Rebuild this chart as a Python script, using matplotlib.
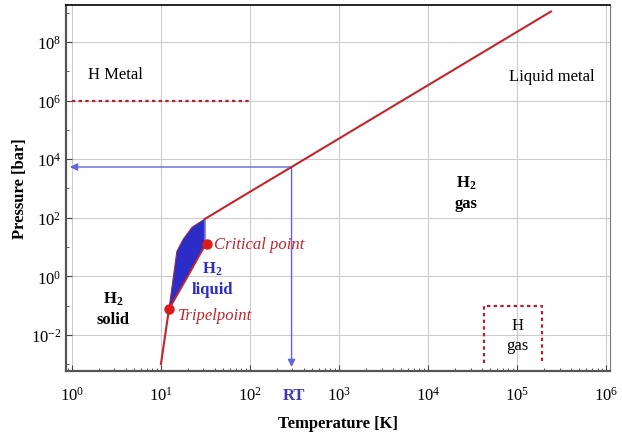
import matplotlib
matplotlib.use("Agg")
import matplotlib.pyplot as plt
from matplotlib.ticker import LogLocator, NullFormatter

plt.rcParams['font.family'] = ['Liberation Serif', 'DejaVu Serif']
plt.rcParams['mathtext.fontset'] = 'custom'
plt.rcParams['mathtext.rm'] = 'Liberation Serif'
plt.rcParams['mathtext.it'] = 'Liberation Serif:italic'
plt.rcParams['mathtext.bf'] = 'Liberation Serif:bold'

# phase boundaries of hydrogen (T in K, p in bar)
solid_T = [10.0, 12.3]
solid_p = [1.0e-3, 0.075]
melt_T = [12.3, 15.1, 17.7, 22.3, 31.0]
melt_p = [0.075, 7.1, 18, 47, 90]
upper_T = [31.0, 100, 293, 2.4e5]
upper_p = [90, 770, 5400, 1.1e9]
vapor_T = [12.3, 20, 31.0, 33]
vapor_p = [0.075, 1.0, 11, 13]
liquid_right_T = [31.0, 31.0]
liquid_right_p = [11, 90]

triple = (12.3, 0.075)
critical = (33, 13)
room_T = 293
room_p = 5400

metal_T = [1.0, 100]
metal_p = [1e6, 1e6]
hgas_T = [4.3e4, 4.3e4, 1.9e5, 1.9e5]
hgas_p = [1.1e-3, 0.1, 0.1, 1.1e-3]

red = '#c0262c'
blue = '#2c2cc8'
arrow_blue = '#6464d8'

fig = plt.figure(figsize=(6.22, 4.35), dpi=100)
ax = fig.add_axes([0.106, 0.145, 0.875, 0.841])
ax.set_xscale('log')
ax.set_yscale('log')
ax.set_xlim(10**-0.067, 10**6.045)
ax.set_ylim(10**-3.23, 10**9.26)

ax.set_xticks([10**k for k in range(0, 7)])
ax.set_yticks([10**k for k in range(-2, 9, 2)])
ax.xaxis.set_minor_locator(LogLocator(base=10, subs=range(2, 10), numticks=20))
ax.yaxis.set_minor_locator(LogLocator(base=10, subs=[1.0], numticks=30))
ax.xaxis.set_minor_formatter(NullFormatter())
ax.yaxis.set_minor_formatter(NullFormatter())
ax.tick_params(which='both', direction='in', labelsize=12, colors='#444444', labelcolor='black')
ax.tick_params(which='major', length=4)
ax.tick_params(which='minor', length=2.5)
ax.tick_params(axis='x', which='major', pad=11)
ax.grid(True, which='major', color='#cccccc', lw=0.8)
ax.set_axisbelow(True)
for s in ['left', 'bottom']:
    ax.spines[s].set_linewidth(1.6)
    ax.spines[s].set_color('#555555')
ax.spines['top'].set_linewidth(1.2)
ax.spines['top'].set_color('black')
ax.spines['right'].set_color('#777777')

# liquid region
ax.fill(melt_T + liquid_right_T[::-1][1:] + vapor_T[::-1][1:],
        melt_p + liquid_right_p[::-1][1:] + vapor_p[::-1][1:],
        color=blue, lw=0, zorder=2)
ax.plot(liquid_right_T, liquid_right_p, color='#8a8ae0', lw=0.8, zorder=3)
ax.plot(solid_T, solid_p, color=red, lw=1.5, zorder=3)
ax.plot(melt_T, melt_p, color='#8a3050', lw=0.8, zorder=3)
ax.plot(upper_T, upper_p, color=red, lw=1.5, zorder=3)
ax.plot(vapor_T, vapor_p, color=red, lw=1.4, zorder=3)
ax.plot(*triple, 'o', color='#dd1a1a', ms=6.5, zorder=4)
ax.plot(*critical, 'o', color='#dd1a1a', ms=6.5, zorder=4)

# room temperature arrows
arrow = dict(arrowstyle='-|>', color=arrow_blue, lw=1.0, mutation_scale=11, shrinkA=0, shrinkB=0)
ax.annotate('', xy=(0.95, room_p), xytext=(room_T, room_p), arrowprops=arrow, zorder=2)
ax.annotate('', xy=(room_T, 8e-4), xytext=(room_T, room_p), arrowprops=arrow, zorder=2)

# dotted boundaries
ax.plot(metal_T, metal_p, color='#b02030', lw=1.6, ls=(0, (1.5, 1.5)))
ax.plot(hgas_T, hgas_p, color='#b02030', lw=1.6, ls=(0, (1.5, 1.5)))

# labels
ax.text(1.5, 10**6.9, 'H Metal', fontsize=12, va='center', ha='left')
ax.text(10**5.87, 10**6.84, 'Liquid metal', fontsize=12, va='center', ha='right')
ax.text(10**4.43, 10**3.22, r'$\mathbf{H_2}$', fontsize=12, ha='center', va='center')
ax.text(10**4.43, 10**2.5, 'gas', fontsize=12, weight='bold', ha='center', va='center')
ax.text(10**0.46, 10**-0.75, r'$\mathbf{H_2}$', fontsize=12, ha='center', va='center')
ax.text(10**0.46, 10**-1.45, 'solid', fontsize=12, weight='bold', ha='center', va='center')
ax.text(10**1.573, 10**0.28, r'$\mathbf{H_2}$', fontsize=12, ha='center', va='center', color=blue)
ax.text(10**1.573, 10**-0.43, 'liquid', fontsize=12, weight='bold', ha='center', va='center', color=blue)
ax.text(10**1.6, 10**1.09, 'Critical point', fontsize=12, style='italic', ha='left', va='center', color=red)
ax.text(10**1.19, 10**-1.33, 'Tripelpoint', fontsize=12, style='italic', ha='left', va='center', color=red)
ax.text(10**5.0, 10**-1.66, 'H', fontsize=12, ha='center', va='center')
ax.text(10**5.0, 10**-2.34, 'gas', fontsize=12, ha='center', va='center')
ax.text(310, -0.045, 'RT', transform=ax.get_xaxis_transform(), fontsize=12, weight='bold',
        color='#3a3ab8', ha='center', va='top')

ax.set_xlabel('Temperature [K]', fontsize=12, weight='bold', labelpad=8)
ax.set_ylabel('Pressure [bar]', fontsize=12, weight='bold', labelpad=2)

fig.savefig('out.png', dpi=100)
